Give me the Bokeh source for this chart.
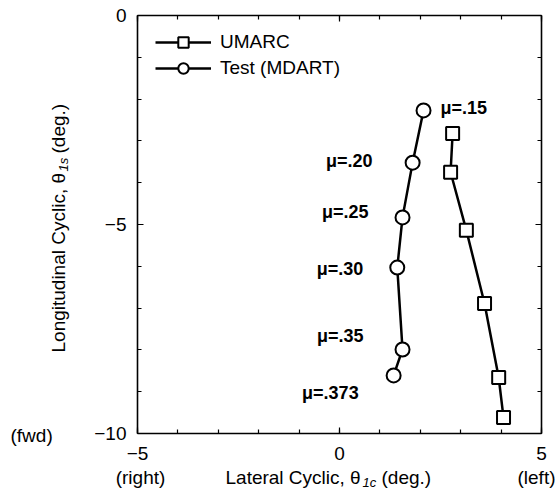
import math
from bokeh.plotting import figure
from bokeh.models import (Range1d, FixedTicker, LinearAxis, Label, Legend,
                          LegendItem, CustomJSTickFormatter)
from bokeh.core.properties import value
from bokeh.embed import file_html
from bokeh.resources import INLINE

# ---- data ----
mu_labels = ["μ=.15", "μ=.20", "μ=.25", "μ=.30", "μ=.35", "μ=.373"]
test_x = [2.08, 1.81, 1.56, 1.43, 1.56, 1.34]
test_y = [-2.27, -3.52, -4.83, -6.03, -7.99, -8.61]
umarc_x = [2.80, 2.75, 3.14, 3.59, 3.94, 4.06]
umarc_y = [-2.82, -3.75, -5.14, -6.89, -8.66, -9.62]

x_major = [-5, 0, 5]
x_minor = list(range(-5, 6))
y_major = [-10, -5, 0]
y_minor = list(range(-10, 1))

FONT = "Liberation Sans"
W, H = 555, 495
# plot box on the canvas (px)
BL, BR, BT, BB = 137, 541, 15, 433
X0, X1 = x_major[0], x_major[-1]
Y0, Y1 = y_major[0], y_major[-1]
sx = (BR - BL) / (X1 - X0)
sy = (BB - BT) / (Y1 - Y0)
x_range = Range1d(X0 - BL / sx, X1 + (W - BR) / sx)
y_range = Range1d(Y0 - (H - BB) / sy, Y1 + BT / sy)

p = figure(width=W, height=H, x_range=x_range, y_range=y_range,
           output_backend="svg", toolbar_location=None, min_border=0,
           x_axis_location=None, y_axis_location=None)
p.grid.visible = False
p.outline_line_color = None
p.background_fill_color = "white"
p.border_fill_color = "white"

fmt = CustomJSTickFormatter(code="return tick < 0 ? '\\u2212' + (-tick) : '' + tick")
blank = CustomJSTickFormatter(code="return ''")


def make_axis(place, loc, bounds, major, minor, labelled, standoff=11):
    ax = LinearAxis(fixed_location=loc, bounds=bounds)
    ax.ticker = FixedTicker(ticks=major, minor_ticks=minor)
    ax.major_tick_in = 6
    ax.major_tick_out = 0
    ax.minor_tick_in = 4
    ax.minor_tick_out = 0
    ax.axis_line_color = "black"
    ax.axis_line_width = 1.6
    ax.major_tick_line_width = 1.2
    ax.minor_tick_line_width = 1.2
    if labelled:
        ax.formatter = fmt
        ax.major_label_text_font = FONT
        ax.major_label_text_font_size = "19px"
        ax.major_label_text_color = "black"
        ax.major_label_standoff = standoff
    else:
        ax.formatter = blank
        ax.major_label_text_font_size = "0px"
        ax.major_label_standoff = 0
    p.add_layout(ax, place)
    return ax


make_axis("below", Y0, (X0, X1), x_major, x_minor, True, standoff=13)
make_axis("left", X0, (Y0, Y1), y_major, y_minor, True, standoff=11)
make_axis("above", Y1, (X0, X1), x_major, x_minor, False)
make_axis("right", X1, (Y0, Y1), y_major, y_minor, False)

# ---- series ----
l_u = p.line(umarc_x, umarc_y, line_color="black", line_width=2.5)
s_u = p.scatter(umarc_x, umarc_y, marker="square", size=13, fill_color="white",
                line_color="black", line_width=2)
l_t = p.line(test_x, test_y, line_color="black", line_width=2.5)
s_t = p.scatter(test_x, test_y, marker="circle", size=14, fill_color="white",
                line_color="black", line_width=2)

# mu labels next to the test points
p.text(x=test_x[:1], y=test_y[:1], text=mu_labels[:1], x_offset=[17], y_offset=[-2],
       text_font=value(FONT), text_font_size="18px", text_font_style="bold",
       text_align="left", text_baseline="middle", text_color="black")
p.text(x=test_x[1:], y=test_y[1:], text=mu_labels[1:],
       x_offset=[-40, -34, -34, -39, -35], y_offset=[-2, -5, 1, -13, 18],
       text_font=value(FONT), text_font_size="18px", text_font_style="bold",
       text_align="right", text_baseline="middle", text_color="black")

GH = 26
legend = Legend(items=[LegendItem(label=value("UMARC"), renderers=[l_u, s_u]),
                       LegendItem(label=value("Test (MDART)"), renderers=[l_t, s_t])],
                location=(155, H - (29 + 2 * GH)), margin=0, padding=0, spacing=0,
                glyph_width=56, glyph_height=GH, label_height=20, label_standoff=9,
                label_text_font=FONT, label_text_font_size="19px",
                label_text_color="black",
                border_line_color=None, background_fill_alpha=0)
p.add_layout(legend)


def lab(text, cx, cy, size="19px", style="normal", align="left", angle=0.0):
    # screen units measured from the bottom-left corner of the canvas-wide frame
    p.add_layout(Label(x=cx, y=H - cy, x_units="screen", y_units="screen",
                       text=text, text_font=FONT, text_font_size=size,
                       text_font_style=style, text_align=align,
                       text_baseline="middle", angle=angle, text_color="black"))


# x axis title pieces
lab("(fwd)", 10, 435)
lab("(right)", 140, 477, align="center")
lab("(left)", 536, 477, align="center")
lab("Lateral Cyclic, θ", 225, 477)
lab("1c", 362, 482, size="13px", style="italic")
lab("(deg.)", 381, 477)

# y axis title pieces (rotated)
R = math.pi / 2
lab("Longitudinal Cyclic, θ", 58, 352, angle=R)
lab("1s", 63, 352 - 181, size="13px", style="italic", angle=R)
lab("(deg.)", 58, 352 - 199, angle=R)

open("out.html", "w").write(file_html(p, INLINE))
